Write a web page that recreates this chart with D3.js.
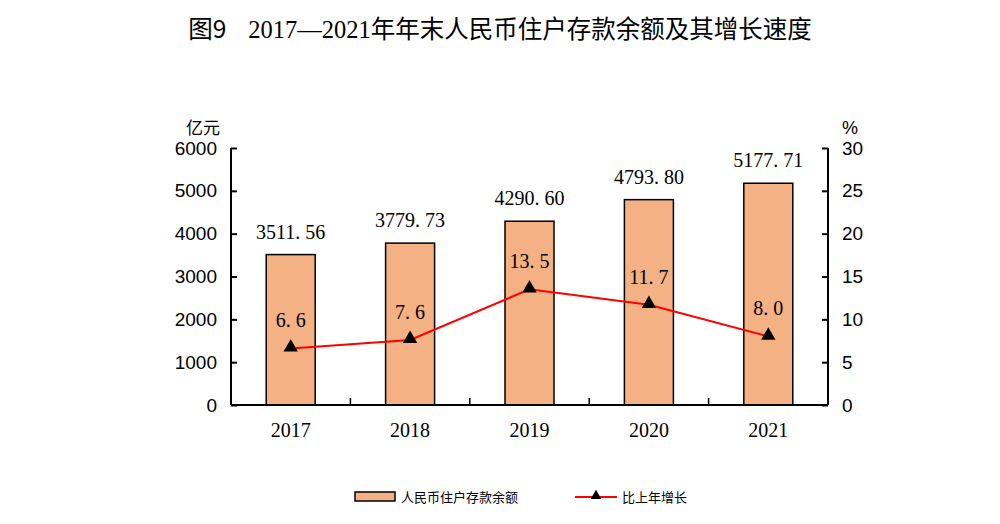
<!DOCTYPE html>
<html>
<head>
<meta charset="utf-8">
<script src="https://cdn.jsdelivr.net/npm/d3@7"></script>
<style>
  body { margin: 0; background: #fff; }
  svg text { fill: #000; }
</style>
</head>
<body>
<svg id="chart" width="1000" height="524"></svg>
<script>
const years = ["2017", "2018", "2019", "2020", "2021"];
const deposits = [3511.56, 3779.73, 4290.60, 4793.80, 5177.71];
const growth = [6.6, 7.6, 13.5, 11.7, 8.0];
const leftTicks = [0, 1000, 2000, 3000, 4000, 5000, 6000];
const rightTicks = [0, 5, 10, 15, 20, 25, 30];

const margin = {top: 148, left: 231, right: 172, bottom: 119},
    width = 1000 - margin.left - margin.right,
    height = 524 - margin.top - margin.bottom;

const svg = d3.select("#chart");
const sans = "Liberation Sans, Arial, sans-serif";
const serif = "Liberation Serif, DejaVu Serif, serif";
const cjk = "Noto Sans CJK SC, sans-serif";

// title
const title = svg.append("text")
    .attr("x", 500).attr("y", 38)
    .attr("text-anchor", "middle")
    .attr("font-size", 24.5);
title.append("tspan").attr("font-family", cjk).text("图9");
title.append("tspan").attr("font-family", serif).attr("dx", 22).text("2017—2021");
title.append("tspan").attr("font-family", cjk).text("年年末人民币住户存款余额及其增长速度");

const g = svg.append("g")
    .attr("transform", "translate(" + margin.left + "," + margin.top + ")");

const x = d3.scaleBand().domain(years).range([0, width]);
const yL = d3.scaleLinear().domain([0, 6000]).range([height, 0]);
const yR = d3.scaleLinear().domain([0, 30]).range([height, 0]);

// bars
const barW = 49;
g.selectAll(".bar")
    .data(deposits)
    .enter().append("rect")
    .attr("class", "bar")
    .attr("x", (d, i) => x(years[i]) + x.bandwidth() / 2 - barW / 2)
    .attr("y", d => yL(d))
    .attr("width", barW)
    .attr("height", d => height - yL(d))
    .attr("fill", "#F4B183")
    .attr("stroke", "#000")
    .attr("stroke-width", 1.5);

g.selectAll(".barlabel")
    .data(deposits)
    .enter().append("text")
    .attr("class", "barlabel")
    .attr("x", (d, i) => x(years[i]) + x.bandwidth() / 2)
    .attr("y", d => yL(d) - 16)
    .attr("text-anchor", "middle")
    .attr("font-family", serif)
    .attr("font-size", 20)
    .attr("fill", "#2b2b2b")
    .text(d => d.toFixed(2).replace(".", ". "));

// axes
const axisL = g.append("g")
    .call(d3.axisLeft(yL).tickValues(leftTicks).tickSize(-6).tickPadding(14).tickFormat(d3.format("d")));
const axisR = g.append("g")
    .attr("transform", "translate(" + width + ",0)")
    .call(d3.axisRight(yR).tickValues(rightTicks).tickSize(-6).tickPadding(14));
[axisL, axisR].forEach(a => {
    a.select(".domain").attr("stroke-width", 2).attr("d", "M0,0V" + height);
    a.selectAll(".tick line").attr("stroke-width", 2);
    a.selectAll("text").attr("font-family", sans).attr("font-size", 19).attr("fill", "#000");
});

// bottom axis
const axisB = g.append("g")
    .attr("transform", "translate(0," + height + ")");
axisB.append("line")
    .attr("x1", 0).attr("x2", width)
    .attr("stroke", "#000").attr("stroke-width", 2);
axisB.selectAll(".sep")
    .data(years.slice(1))
    .enter().append("line")
    .attr("class", "sep")
    .attr("x1", d => x(d)).attr("x2", d => x(d))
    .attr("y1", 0).attr("y2", -7)
    .attr("stroke", "#000").attr("stroke-width", 1.5);
axisB.selectAll(".yr")
    .data(years)
    .enter().append("text")
    .attr("class", "yr")
    .attr("x", d => x(d) + x.bandwidth() / 2)
    .attr("y", 32)
    .attr("text-anchor", "middle")
    .attr("font-family", serif)
    .attr("font-size", 20)
    .attr("fill", "#2b2b2b")
    .text(d => d);

// units
svg.append("text").attr("x", 203).attr("y", 134).attr("text-anchor", "middle")
    .attr("font-family", cjk).attr("font-size", 17).attr("fill", "#333").text("亿元");
svg.append("text").attr("x", 850).attr("y", 134).attr("text-anchor", "middle")
    .attr("font-family", sans).attr("font-size", 18).text("%");

// growth line
const line = d3.line()
    .x((d, i) => x(years[i]) + x.bandwidth() / 2)
    .y(d => yR(d));
g.append("path")
    .datum(growth)
    .attr("fill", "none")
    .attr("stroke", "#FF0000")
    .attr("stroke-width", 2)
    .attr("d", line);

const tri = d3.symbol().type(d3.symbolTriangle).size(90);
g.selectAll(".pt")
    .data(growth)
    .enter().append("path")
    .attr("class", "pt")
    .attr("transform", (d, i) => "translate(" + (x(years[i]) + x.bandwidth() / 2) + "," + (yR(d) - 1) + ")")
    .attr("d", tri)
    .attr("fill", "#000");

g.selectAll(".glabel")
    .data(growth)
    .enter().append("text")
    .attr("class", "glabel")
    .attr("x", (d, i) => x(years[i]) + x.bandwidth() / 2)
    .attr("y", d => yR(d) - 21)
    .attr("text-anchor", "middle")
    .attr("font-family", serif)
    .attr("font-size", 20)
    .attr("fill", "#333")
    .text(d => d.toFixed(1).replace(".", ". "));

// legend
const leg = svg.append("g");
leg.append("rect")
    .attr("x", 355).attr("y", 492).attr("width", 40).attr("height", 9)
    .attr("fill", "#F4B183").attr("stroke", "#000").attr("stroke-width", 1.5);
leg.append("text").attr("x", 401).attr("y", 502)
    .attr("font-family", cjk).attr("font-size", 13).text("人民币住户存款余额");
leg.append("line")
    .attr("x1", 575).attr("x2", 617).attr("y1", 497).attr("y2", 497)
    .attr("stroke", "#FF0000").attr("stroke-width", 2);
leg.append("path")
    .attr("transform", "translate(596,496)")
    .attr("d", d3.symbol().type(d3.symbolTriangle).size(50))
    .attr("fill", "#000");
leg.append("text").attr("x", 622).attr("y", 502)
    .attr("font-family", cjk).attr("font-size", 13).text("比上年增长");
</script>
</body>
</html>
